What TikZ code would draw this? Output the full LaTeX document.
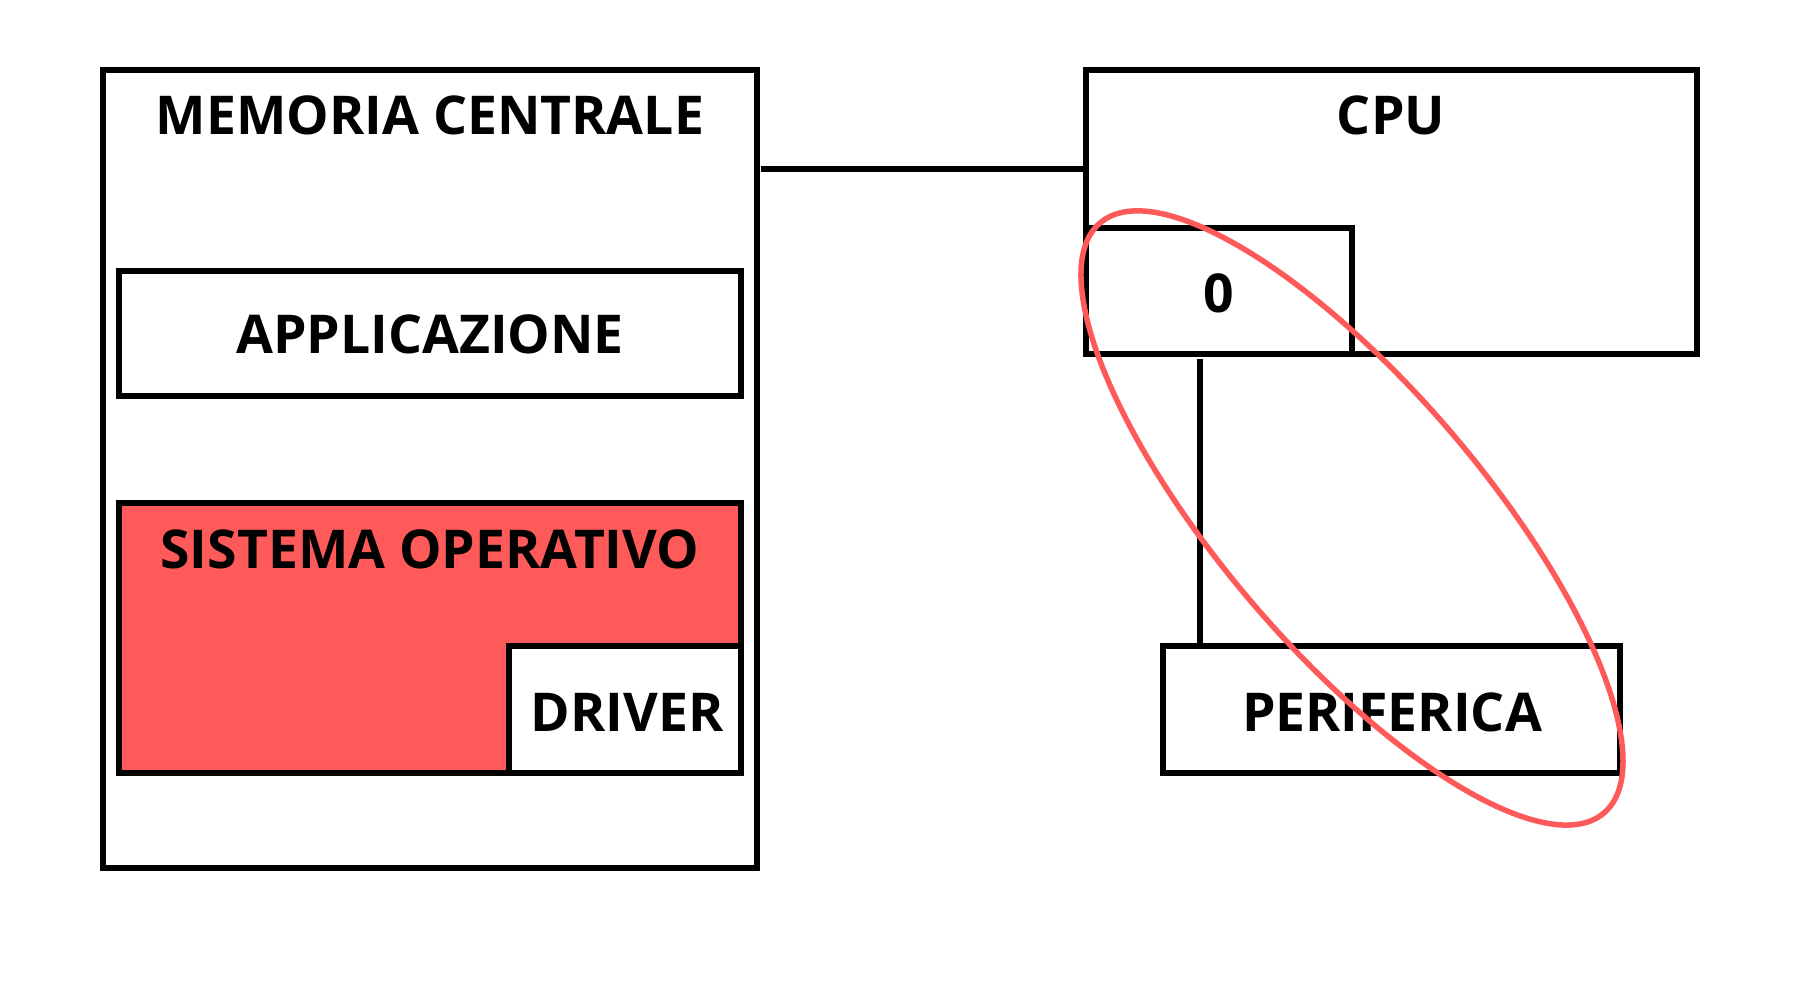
\documentclass[tikz,border=0pt]{standalone}
\usepackage{fontspec}
\setmainfont{Open Sans}
\definecolor{osred}{RGB}{255,90,90}
\tikzset{
  box/.style={draw=black, line width=6.5pt, rectangle, inner sep=0pt},
  lbl/.style={font=\fontsize{53.5}{60}\selectfont\bfseries, inner sep=0pt, anchor=center},
  conn/.style={draw=black, line width=6pt},
  halo/.style={draw=osred, line width=5.5pt}
}
\begin{document}
\begin{tikzpicture}[x=1pt,y=1pt]
\useasboundingbox[fill=white] (0,0) rectangle (1800,1000);
% memory
\node[box, minimum width=654pt, minimum height=798pt] (mem) at (430,531) {};
\node[lbl] (memt) at (430,885) {MEMORIA CENTRALE};
\node[box, minimum width=622pt, minimum height=125pt] (app) at (430,666.5) {};
\node[lbl] (appt) at (430,666) {APPLICAZIONE};
\node[box, fill=osred, minimum width=622pt, minimum height=270pt] (os) at (430,362) {};
\node[lbl] (ost) at (430,451) {SISTEMA OPERATIVO};
\node[box, fill=white, minimum width=232pt, minimum height=127pt] (drv) at (625,290.5) {};
\node[lbl] (drvt) at (627,288) {DRIVER};
% cpu
\node[box, minimum width=611pt, minimum height=284pt] (cpu) at (1391.5,788) {};
\node[lbl] (cput) at (1391,885) {CPU};
\node[box, minimum width=266pt, minimum height=126pt] (reg) at (1219,709) {};
\node[lbl] (regt) at (1219,707) {0};
% peripheral
\node[box, minimum width=457pt, minimum height=127pt] (per) at (1391.5,290.5) {};
\node[lbl] (pert) at (1392,288) {PERIFERICA};
% connectors
\coordinate (busA) at (761,831);
\draw[conn] (busA) -- (busA -| cpu.west);
\coordinate (busB) at (1200,641);
\draw[conn] (busB) -- (busB |- per.north);
% highlight ellipse
\coordinate (ec) at (1352,482);
\draw[halo, rotate around={-49.5:(ec)}] (ec) ellipse [x radius=388pt, y radius=131pt];
\end{tikzpicture}
\end{document}
